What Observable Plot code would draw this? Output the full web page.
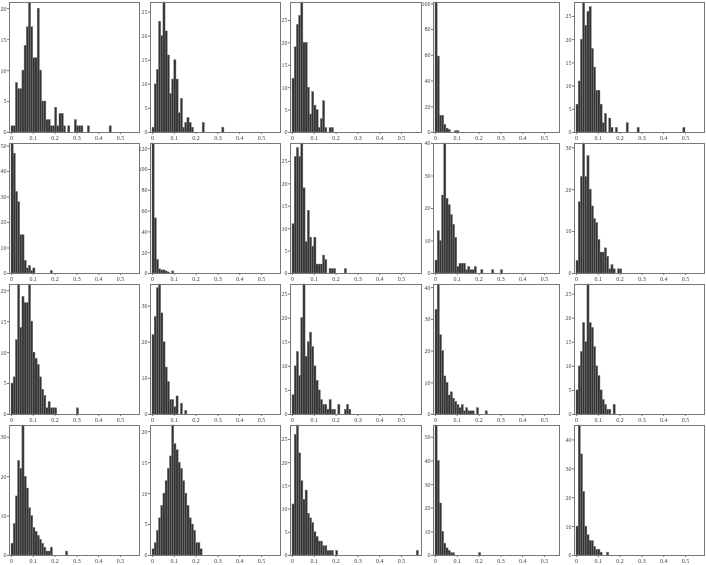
<!DOCTYPE html>
<html><head><meta charset="utf-8">
<script src="https://cdn.jsdelivr.net/npm/d3@7"></script>
<script src="https://cdn.jsdelivr.net/npm/@observablehq/plot@0.6"></script>
<style>
body{margin:0;background:#fff;}
#chart{position:relative;width:706px;height:565px;overflow:hidden;background:#fff;filter:grayscale(1);}
#chart > div{position:absolute;}
</style></head><body><div id="chart"></div>
<script>
// counts per bin of width 0.01 starting at 0
const binWidth = 0.01;
const panel1 = [1,1,8,7,7,10,14,17,21,17,12,12,20,10,5,5,2,2,1,1,4,1,3,3,1,0,1,0,0,2,1,1,1,0,0,1,0,0,0,0,0,0,0,0,0,1];
const panel2 = [1,10,13,23,20,27,21,16,8,11,15,11,4,7,1,2,3,2,1,0,0,0,0,2,0,0,0,0,0,0,0,0,1];
const panel3 = [12,19,24,26,29,20,20,10,4,9,6,5,1,3,7,1,0,1,1];
const panel4 = [101,59,13,13,6,3,2,0,0,1,1];
const panel5 = [6,11,20,28,23,26,27,18,14,9,9,6,2,4,0,3,1,0,1,0,0,0,0,2,0,0,0,0,1,0,0,0,0,0,0,0,0,0,0,0,0,0,0,0,0,0,0,0,0,1];
const panel6 = [51,47,32,28,15,15,5,2,3,1,2,0,0,0,0,0,0,0,1];
const panel7 = [125,53,13,4,3,3,2,1,0,2];
const panel8 = [11,26,28,26,29,19,7,14,8,6,8,2,2,2,4,3,0,1,1,1,0,0,0,0,1];
const panel9 = [4,13,10,24,40,23,21,18,15,11,2,3,3,3,1,2,1,1,2,0,0,1,0,0,0,0,1,0,0,0,1];
const panel10 = [3,17,23,31,23,28,20,16,13,12,8,5,5,6,4,1,2,1,0,1,1];
const panel11 = [5,6,12,21,14,19,18,18,21,15,10,9,8,6,4,3,1,2,1,1,1,0,0,0,0,0,0,0,0,0,1];
const panel12 = [22,27,35,36,28,20,13,9,4,4,2,5,0,3,0,1];
const panel13 = [4,10,13,8,20,27,12,15,17,14,10,7,5,3,2,2,1,3,1,1,0,2,0,0,1,2,1];
const panel14 = [33,41,25,20,12,10,6,7,5,4,3,2,3,1,2,1,1,1,0,2,0,0,0,1];
const panel15 = [5,10,13,19,15,27,19,18,14,10,8,5,3,2,1,1,0,2];
const panel16 = [3,8,15,24,22,33,20,17,12,10,7,6,5,4,3,2,1,1,2,0,0,0,0,0,0,1];
const panel17 = [1,2,4,6,8,10,12,14,16,21,18,17,15,14,12,10,8,6,5,4,2,2,1];
const panel18 = [11,26,28,22,16,12,14,9,8,7,5,4,3,3,2,2,1,1,1,0,1,0,0,0,0,0,0,0,0,0,0,0,0,0,0,0,0,0,0,0,0,0,0,0,0,0,0,0,0,0,0,0,0,0,0,0,0,1];
const panel19 = [55,40,22,10,5,3,2,1,1,0,0,0,0,0,0,0,0,0,0,0,1];
const panel20 = [10,45,35,22,10,7,5,5,3,2,2,1,0,0,1];

const xTicks = [0, 0.1, 0.2, 0.3, 0.4, 0.5];
const xTickLabels = ["0", "0.1", "0.2", "0.3", "0.4", "0.5"];
const yTickSteps = [5,5,5,20,5, 10,20,5,10,10, 5,10,5,10,5, 10,5,5,10,10];

const panels = [panel1,panel2,panel3,panel4,panel5,panel6,panel7,panel8,panel9,panel10,
                panel11,panel12,panel13,panel14,panel15,panel16,panel17,panel18,panel19,panel20];

// layout (pixels)
const colLeft = [9, 150, 290, 433, 574];
const colRight = [139, 280, 421, 559, 704];
const rowTop = [2, 143, 284, 425];
const rowBottom = [132, 273, 414, 555];
const pxPerTenth = 21.8;
const mL = 16, mR = 1, mT = 4, mB = 11;

const chart = document.getElementById("chart");
panels.forEach((counts, k) => {
  const r = Math.floor(k / 5), c = k % 5;
  const L = colLeft[c], R = colRight[c], T = rowTop[r], B = rowBottom[r];
  const w = (R - L) + mL + mR, h = (B - T) + mT + mB;
  const data = counts.map((v, i) => ({x1: i * binWidth, x2: (i + 1) * binWidth, y: v})).filter(d => d.y > 0);
  const ymax = d3.max(counts);
  const step = yTickSteps[k];
  const x0 = mL + 2;
  const svg = Plot.plot({
    width: w, height: h,
    marginLeft: mL, marginRight: mR, marginTop: mT, marginBottom: mB,
    style: {fontFamily: "Liberation Serif, serif", fontSize: "6px", color: "#444", background: "transparent", overflow: "visible"},
    x: {domain: [0, 0.5], range: [x0, x0 + pxPerTenth * 5], label: null},
    y: {domain: [0, ymax], range: [h - mB, mT], label: null},
    marks: [
      Plot.rectY(data, {x1: "x1", x2: "x2", y: "y", fill: "#333", stroke: "#777", strokeWidth: 0.4}),
      Plot.frame({stroke: "#777", strokeWidth: 1}),
      Plot.axisX({ticks: xTicks, tickFormat: d => xTickLabels[xTicks.indexOf(d)], tickSize: 2, tickPadding: 1, fontSize: 6, stroke: "#777", fill: "#444", label: null}),
      Plot.axisY({ticks: d3.range(0, ymax + 1e-9, step), tickSize: 2, tickPadding: 1, fontSize: 6, stroke: "#777", fill: "#444", label: null})
    ]
  });
  const holder = document.createElement("div");
  holder.style.left = (L - mL) + "px";
  holder.style.top = (T - mT) + "px";
  holder.appendChild(svg);
  chart.appendChild(holder);
});
</script>
</body></html>
